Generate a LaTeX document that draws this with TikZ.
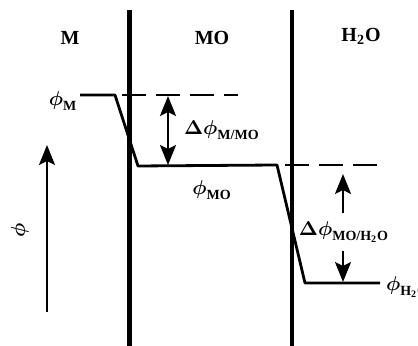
\documentclass[tikz,border=0pt]{standalone}
\usepackage{amsmath}
\usepackage{fontspec}
\setmainfont{Liberation Serif}
\usetikzlibrary{arrows.meta}

\tikzset{
  wall/.style={line width=2.2pt},
  level/.style={line width=1.4pt, line join=round},
  guide/.style={line width=1.2pt, dash pattern=on 12pt off 5pt},
  potarrow/.style={line width=1.2pt, -{Stealth[length=10pt,width=8pt,inset=2pt]}},
  bothways/.style={line width=1.2pt, {Stealth[length=10pt,width=8pt,inset=2pt]}-{Stealth[length=10pt,width=8pt,inset=2pt]}},
  phase/.style={font=\bfseries},
}

\begin{document}
\begin{tikzpicture}[x=0.5pt, y=-0.5pt]
  \useasboundingbox (0,0) rectangle (418,346);

  % phases and interfaces
  \node[phase] (m) at (70,38) {M};
  \node[phase] (mo) at (212,38) {MO};
  \node[phase] (water) at (361,36) {H\textsubscript{2}O};
  \draw[wall] (129.5,10) -- (129.5,346);
  \draw[wall] (292,10) -- (292,346);

  % potential profile
  \coordinate (pM) at (80,95);
  \coordinate (pMend) at (115,95);
  \coordinate (pMOa) at (138,166);
  \coordinate (pMOb) at (277,165);
  \coordinate (pWa) at (305,283);
  \coordinate (pWb) at (380,283);
  \draw[level] (pM) -- (pMend) -- (pMOa) -- (pMOb) -- (pWa) -- (pWb);
  \draw[guide] (122,95) -- (238,95);
  \draw[guide] (285,165) -- (382,165);

  % levels
  \node (phiM) at (63,101) {$\boldsymbol\phi_{\textbf{M}}$};
  \node (phiMO) at (212,190) {$\boldsymbol\phi_{\textbf{MO}}$};
  \node[anchor=west] (phiW) at (379,287) {$\boldsymbol\phi_{\textbf{H\textsubscript{2}O}}$};

  % M/MO drop
  \coordinate (dA) at (168,96);
  \coordinate (dB) at (168,165);
  \draw[bothways] (dA) -- (dB);
  \node[anchor=west] (dM) at (177,130) {$\boldsymbol\Delta\boldsymbol\phi_{\textbf{M/MO}}$};

  % MO/H2O drop
  \node (dW) at (344,232) {$\boldsymbol\Delta\boldsymbol\phi_{\textbf{MO/H\textsubscript{2}O}}$};
  \coordinate (uA) at (343,174);
  \coordinate (uB) at (343,282);
  \draw[potarrow] (dW.north -| uA) ++(0,-2) -- (uA);
  \draw[potarrow] (dW.south -| uB) ++(0,2) -- (uB);

  % potential axis
  \coordinate (ax0) at (47,312);
  \coordinate (ax1) at (47,145);
  \draw[potarrow] (ax0) -- (ax1);
  \node[rotate=90] (phiax) at (20,230) {$\boldsymbol\phi$};
\end{tikzpicture}
\end{document}
